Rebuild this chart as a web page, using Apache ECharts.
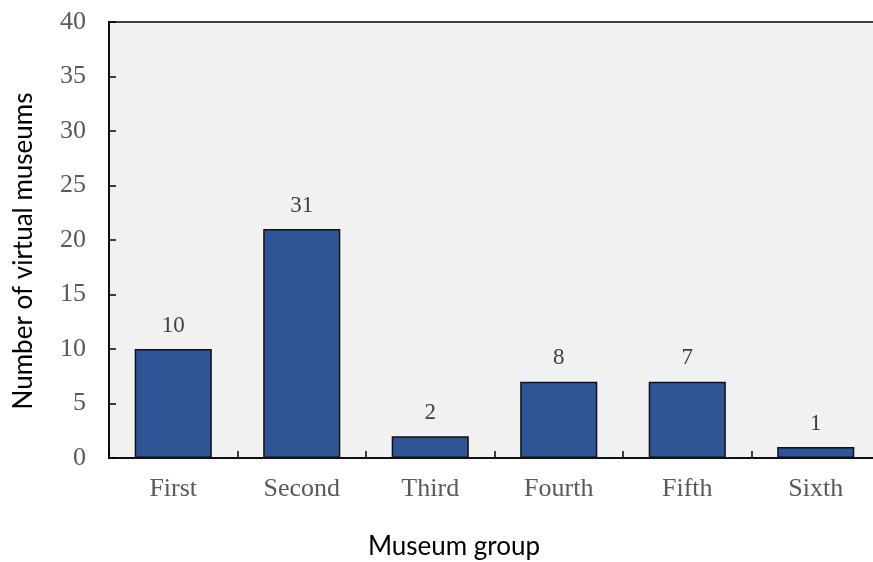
<!DOCTYPE html>
<html>
<head>
<meta charset="utf-8">
<script src="https://cdn.jsdelivr.net/npm/echarts@6/dist/echarts.min.js"></script>
<style>
html,body{margin:0;padding:0;background:#fff;}
#chart{width:873px;height:562px;}
</style>
</head>
<body>
<div id="chart"></div>
<script>
const categories = ["First", "Second", "Third", "Fourth", "Fifth", "Sixth"];
const barValues = [10, 21, 2, 7, 7, 1];
const barLabels = ["10", "31", "2", "8", "7", "1"];
const yTicks = [0, 5, 10, 15, 20, 25, 30, 35, 40];

const chart = echarts.init(document.getElementById('chart'));
const serif = 'Liberation Serif';
const sans = 'Lato';

chart.setOption({
  animation: false,
  grid: {
    left: 109, top: 22, bottom: 104, width: 771,
    outerBoundsMode: 'none',
    containLabel: false,
    show: true, backgroundColor: '#f1f1f1', borderColor: '#404040', borderWidth: 2
  },
  xAxis: {
    type: 'category',
    data: categories,
    boundaryGap: true,
    axisLine: { lineStyle: { color: '#000', width: 1.5 } },
    axisTick: { show: true, inside: true, length: 7, alignWithLabel: false, lineStyle: { color: '#000', width: 1.5 } },
    axisLabel: { fontFamily: serif, fontSize: 26, color: '#595959', margin: 18 },
    splitLine: { show: false }
  },
  yAxis: {
    type: 'value',
    min: yTicks[0], max: yTicks[yTicks.length - 1], interval: 5,
    axisLine: { show: true, lineStyle: { color: '#000', width: 1.5 } },
    axisTick: { show: true, inside: true, length: 7, lineStyle: { color: '#000', width: 1.5 } },
    axisLabel: { fontFamily: serif, fontSize: 26, color: '#595959', margin: 23 },
    splitLine: { show: false }
  },
  graphic: [
    {
      type: 'text', x: 454, y: 547,
      style: { text: 'Museum group', fontFamily: sans, fontSize: 26, fill: '#000', textAlign: 'center', textVerticalAlign: 'middle' }
    },
    {
      type: 'text', x: 24, y: 251, rotation: Math.PI / 2,
      style: { text: 'Number of virtual museums', fontFamily: sans, fontSize: 26, fill: '#000', textAlign: 'center', textVerticalAlign: 'middle' }
    }
  ],
  series: [{
    type: 'bar',
    data: barValues,
    barWidth: '60%',
    itemStyle: { color: '#2f5597', borderColor: '#111', borderWidth: 1.5 },
    label: {
      show: true, position: 'top', distance: 12,
      fontFamily: serif, fontSize: 23, color: '#404040',
      formatter: p => barLabels[p.dataIndex]
    }
  }]
});
</script>
</body>
</html>
